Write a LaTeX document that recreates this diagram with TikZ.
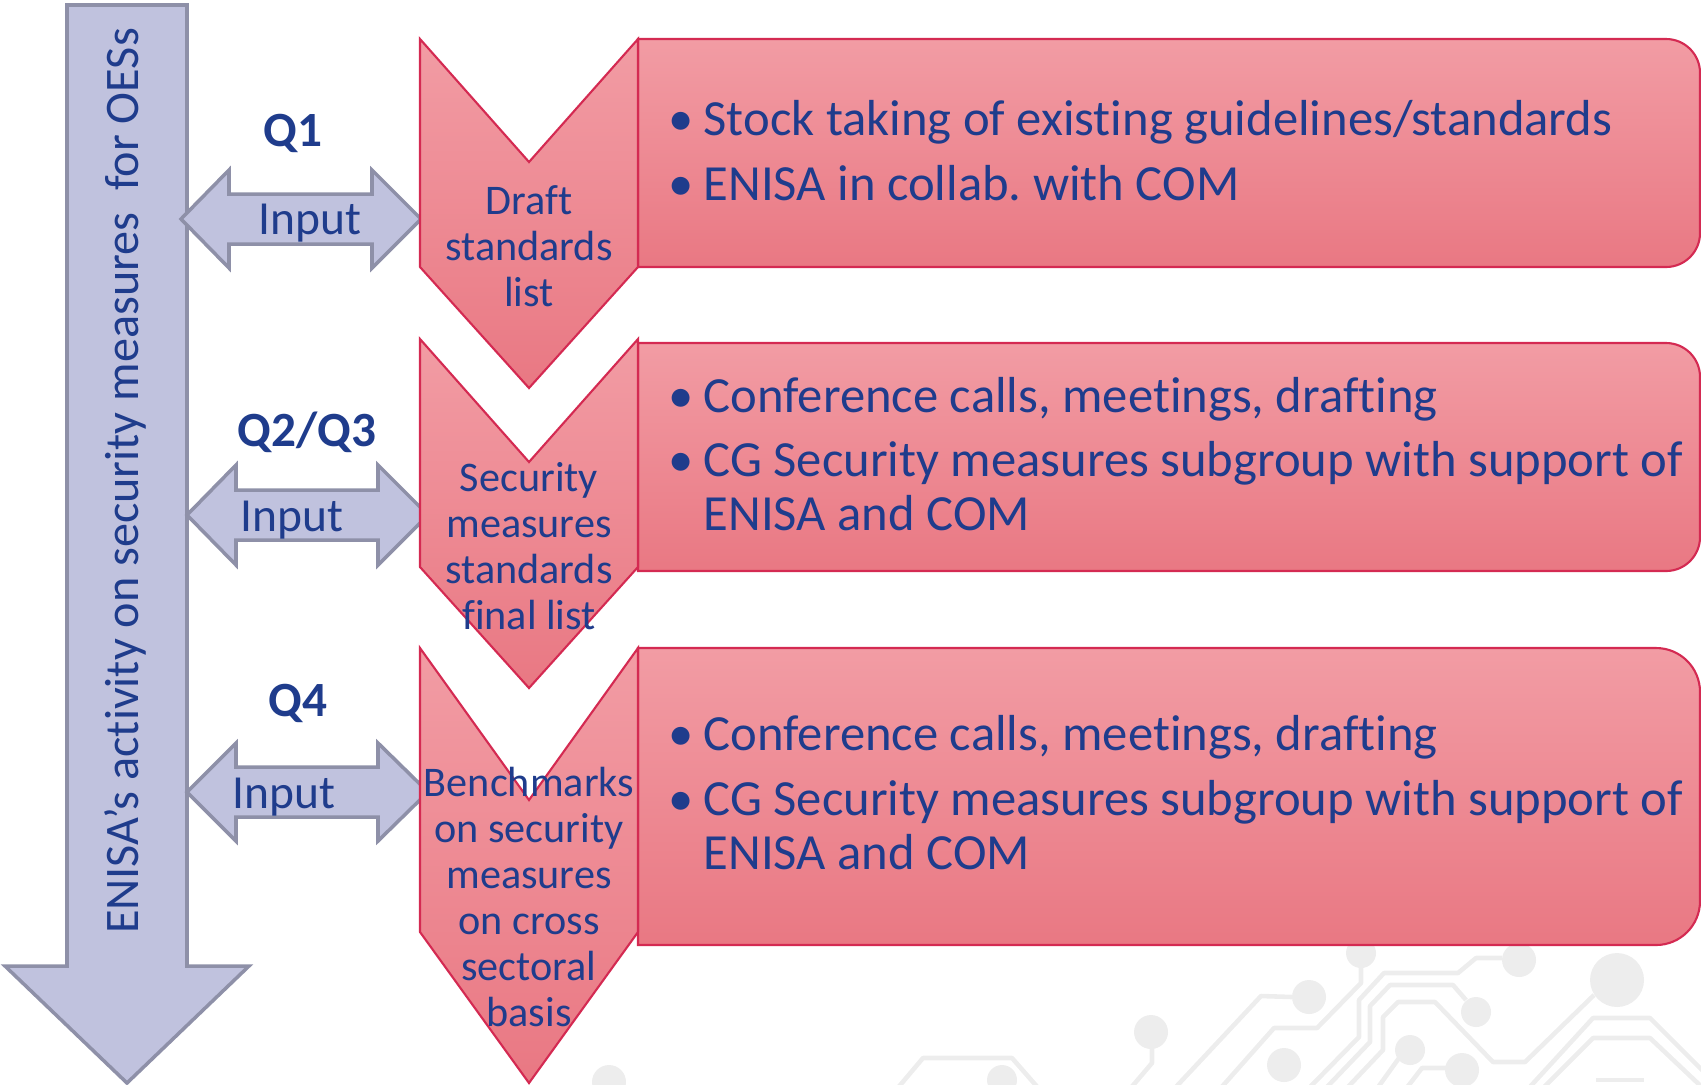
\documentclass[tikz,border=0pt]{standalone}
\usepackage{fontspec}
\setmainfont{Carlito}[Ligatures=NoCommon]
\usepackage{tikz}
\frenchspacing

\definecolor{ink}{HTML}{1F3C8C}
\definecolor{lav}{HTML}{C0C2DE}
\definecolor{lavline}{HTML}{8E90A8}
\definecolor{pinktop}{HTML}{F29CA4}
\definecolor{pinkbot}{HTML}{E97883}
\definecolor{pinkline}{HTML}{D42A52}
\definecolor{trace}{HTML}{EDEDED}

\tikzset{
  pinkshape/.style={top color=pinktop, bottom color=pinkbot, draw=pinkline, line width=0.6pt},
  lavshape/.style={fill=lav, draw=lavline, line width=1pt, line join=miter},
  steptext/.style={text=ink, font=\fontsize{12}{13.1}\selectfont, align=center, inner sep=0pt},
  itemtext/.style={text=ink, font=\fontsize{14.4}{15.8}\selectfont, anchor=base west, inner sep=0pt},
  qlabel/.style={text=ink, font=\fontsize{14}{16}\selectfont\bfseries, inner sep=0pt},
  inlabel/.style={text=ink, font=\fontsize{13.5}{16}\selectfont, inner sep=0pt},
  tracks/.style={draw=trace, line width=1.3pt, line join=round},
}
\newcommand{\bul}{\makebox[0.35cm][l]{•}}

\begin{document}
\begin{tikzpicture}[x=0.01cm,y=-0.01cm]
\useasboundingbox (0,0) rectangle (1701,1084);
% circuit traces in the corner
\begin{scope}
\clip (0,0) rectangle (1701,1084);
\draw[tracks] (1361,967)--(1361,983)--(1317,1028)--(1274,1028)--(1219,1090);
\draw[tracks] (1292,997)--(1261,996)--(1173,1090);
\draw[tracks] (1502,958)--(1476,958)--(1458,973)--(1384,973)--(1359,1000)--(1359,1037)--(1307,1090);
\draw[tracks] (1466,1000)--(1453,985)--(1390,985)--(1370,1006)--(1370,1042)--(1324,1090);
\draw[tracks] (1594,995)--(1525,1062)--(1493,1062)--(1435,1002)--(1398,1002)--(1383,1017)--(1383,1050)--(1345,1090);
\draw[tracks] (1399,1058)--(1376,1090);
\draw[tracks] (1447,1068)--(1422,1068)--(1405,1090);
\draw[tracks] (1152,1047)--(1152,1063)--(1129,1090);
\draw[tracks] (1527,1090)--(1593,1018)--(1650,1018)--(1710,1078);
\draw[tracks] (1541,1090)--(1593,1038)--(1650,1038)--(1705,1090);
\draw[tracks] (1596,1080)--(1644,1080);
\draw[tracks] (896,1090)--(923,1058)--(1012,1058)--(1040,1090);
\fill[trace] (1361,953) circle[radius=15];
\fill[trace] (1519,960) circle[radius=17];
\fill[trace] (1617,980) circle[radius=27];
\fill[trace] (1309,997) circle[radius=17];
\fill[trace] (1476,1012) circle[radius=15];
\fill[trace] (1151,1032) circle[radius=17];
\fill[trace] (1410,1050) circle[radius=15];
\fill[trace] (1284,1065) circle[radius=17];
\fill[trace] (1462,1070) circle[radius=17];
\fill[trace] (1002,1080) circle[radius=15];
\fill[trace] (609,1082) circle[radius=17];
\end{scope}
%
% timeline arrow
\draw[lavshape] (67,5) -- (187,5) -- (187,966) -- (249,966) -- (127,1083) -- (5,966) -- (67,966) -- cycle;
\node[rotate=90, text=ink, font=\fontsize{13.7}{16}\selectfont, inner sep=0pt] (track) at (125,481) {ENISA’s activity on security measures\ \ for OESs};
%
% input arrows
\draw[lavshape] (181,219) -- (229,170) -- (229,194) -- (372,194) -- (372,170) -- (421,219) -- (372,268) -- (372,244) -- (229,244) -- (229,268) -- cycle;
\draw[lavshape] (187,515) -- (236,465) -- (236,490) -- (378,490) -- (378,465) -- (428,515) -- (378,565) -- (378,540) -- (236,540) -- (236,565) -- cycle;
\draw[lavshape] (187,792) -- (236,743) -- (236,767) -- (378,767) -- (378,743) -- (428,792) -- (378,841) -- (378,817) -- (236,817) -- (236,841) -- cycle;
\node[qlabel] (q1) at (293,133) {Q1};
\node[qlabel] (q23) at (307,432) {Q2/Q3};
\node[qlabel] (q4) at (298,703) {Q4};
\node[inlabel] (in1) at (310,223) {Input};
\node[inlabel] (in2) at (292,520) {Input};
\node[inlabel] (in3) at (284,797) {Input};
%
% task boxes
\draw[pinkshape] (638,39) -- (1666,39) arc[start angle=-90,end angle=0,radius=34] -- (1700,233) arc[start angle=0,end angle=90,radius=34] -- (638,267) -- cycle;
\draw[pinkshape] (638,343) -- (1666,343) arc[start angle=-90,end angle=0,radius=34] -- (1700,537) arc[start angle=0,end angle=90,radius=34] -- (638,571) -- cycle;
\draw[pinkshape] (638,648) -- (1656,648) arc[start angle=-90,end angle=0,radius=44] -- (1700,901) arc[start angle=0,end angle=90,radius=44] -- (638,945) -- cycle;
%
% step chevrons
\draw[pinkshape] (420,39) -- (529,162) -- (638,39) -- (638,267) -- (529,388) -- (420,267) -- cycle;
\draw[pinkshape] (420,339) -- (529,462) -- (638,339) -- (638,567) -- (529,688) -- (420,567) -- cycle;
\draw[pinkshape] (420,648) -- (529,800) -- (638,648) -- (638,932) -- (529,1083) -- (420,932) -- cycle;
\node[steptext] (draft) at (529,246) {Draft\\standards\\list};
\node[steptext] (final) at (529,546) {Security\\measures\\standards\\final list};
\node[steptext] (bench) at (529,897) {Benchmarks\\on security\\measures\\on cross\\sectoral\\basis};
%
% bullet texts
\node[itemtext] (b1a) at (668,135) {\bul Stock taking of existing guidelines/standards};
\node[itemtext] (b1b) at (668,200) {\bul ENISA in collab. with COM};
\node[itemtext] (b2a) at (668,412) {\bul Conference calls, meetings, drafting};
\node[itemtext] (b2b) at (668,476) {\bul CG Security measures subgroup with support of};
\node[itemtext] (b2c) at (703,530) {ENISA and COM};
\node[itemtext] (b3a) at (668,750) {\bul Conference calls, meetings, drafting};
\node[itemtext] (b3b) at (668,815) {\bul CG Security measures subgroup with support of};
\node[itemtext] (b3c) at (703,869) {ENISA and COM};
\end{tikzpicture}
\end{document}
